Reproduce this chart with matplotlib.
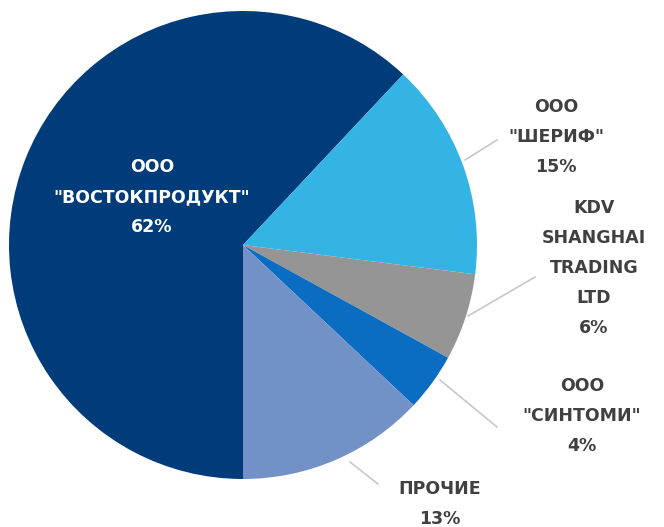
import matplotlib
matplotlib.use("Agg")
import matplotlib.pyplot as plt

# Доли поставщиков, %
names = ['ООО\n"ВОСТОКПРОДУКТ"', 'ООО\n"ШЕРИФ"', 'KDV\nSHANGHAI\nTRADING\nLTD',
         'ООО\n"СИНТОМИ"', 'ПРОЧИЕ']
shares = [62, 15, 6, 4, 13]
colors = ["#003B7A", "#33B4E4", "#959595", "#0A6DC2", "#7191C7"]

W, H = 664, 527
fig = plt.figure(figsize=(W / 100, H / 100), dpi=100)
ax = fig.add_axes([0, 0, 1, 1])

cx, cy, r = 243, H - 245, 234
ax.pie(shares, colors=colors, startangle=-90, counterclock=False,
       center=(cx, cy), radius=r, frame=True,
       wedgeprops=dict(linewidth=0))
ax.set_xlim(0, W)
ax.set_ylim(0, H)
ax.set_aspect("equal")
ax.axis("off")

font = dict(family=["DejaVu Sans"], fontsize=12.5, fontweight="bold",
            ha="center", va="center", linespacing=1.85)

# подпись внутри крупного сектора
ax.text(152, H - 197, f"{names[0]}\n{shares[0]}%", color="white", **font)

# внешние подписи: (индекс, текст x, текст y, линия от, линия до)
outside = [
    (1, 556, 137, (465, 160), (497, 140)),
    (2, 594, 268, (468, 316), (535, 277)),
    (3, 582, 416, (440, 380), (497, 427)),
    (4, 440, 504, (350, 462), (378, 484)),
]
for i, tx, ty, p0, p1 in outside:
    ax.plot([p0[0], p1[0]], [H - p0[1], H - p1[1]], color="#C8C8C8", lw=1.2)
    ax.text(tx, H - ty, f"{names[i]}\n{shares[i]}%", color="#404040", **font)

fig.savefig("out.png", dpi=100)
